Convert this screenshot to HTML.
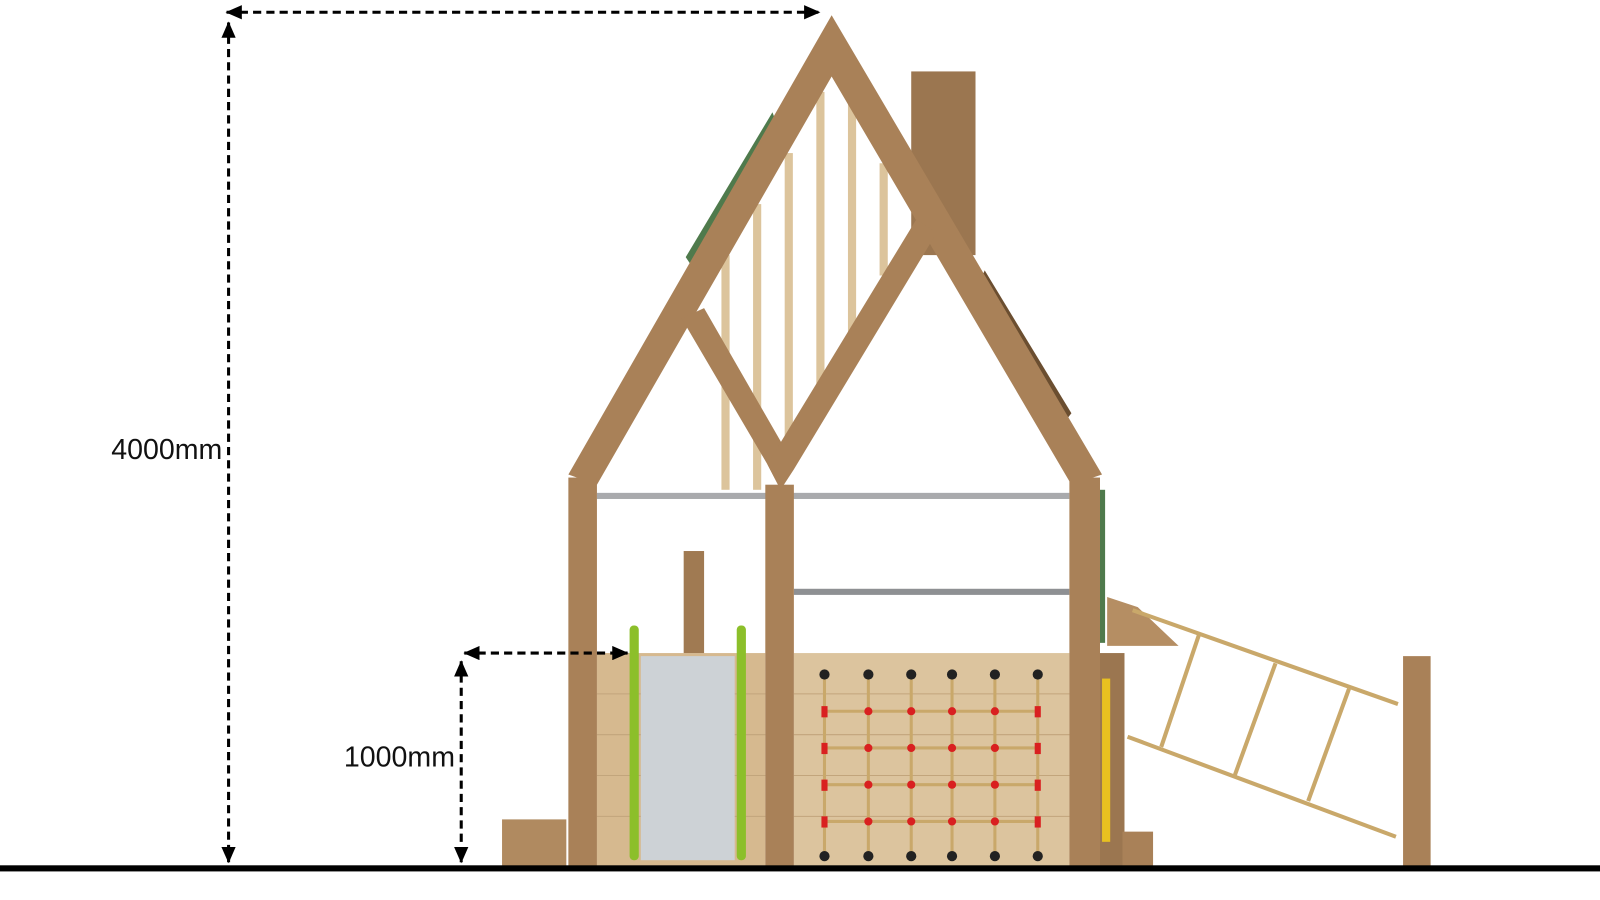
<!DOCTYPE html><html><head><style>body{margin:0;background:#fff}svg{display:block}text{font-family:"Liberation Sans",sans-serif;font-size:28px;fill:#111}</style></head><body>
<svg width="1600" height="900" viewBox="0 0 1568 882" preserveAspectRatio="none">
<defs>
<marker id="b" markerWidth="16" markerHeight="14" refX="15" refY="7" orient="auto-start-reverse" markerUnits="userSpaceOnUse"><path d="M0,0 L16,7 L0,14 z" fill="#000"/></marker></defs>
<rect x="492" y="803" width="63" height="47" fill="#b08a60"/>
<rect x="893" y="70" width="63" height="180" fill="#9b7650"/>
<polygon points="672,252 757,110 760,118 676,258" fill="#4f7a4c"/>
<polygon points="965,265 1050,405 1046,410 962,272" fill="#6b4e30"/>
<g fill="#dcc49c"><rect x="707" y="250" width="8" height="230"/><rect x="738" y="200" width="8" height="280"/><rect x="769" y="150" width="8" height="300"/><rect x="800" y="90" width="8" height="290"/><rect x="831" y="100" width="8" height="230"/><rect x="862" y="160" width="8" height="110"/></g>
<rect x="585" y="483" width="463" height="6" fill="#a9aaad"/>
<rect x="778" y="577" width="270" height="6" fill="#8e9093"/>
<rect x="585" y="640" width="165" height="210" fill="#d6b98f"/>
<rect x="778" y="640" width="270" height="210" fill="#dcc49e"/>
<g stroke="#c2a57c" stroke-width="1">
<line x1="585" y1="680" x2="750" y2="680"/><line x1="585" y1="720" x2="750" y2="720"/><line x1="585" y1="760" x2="750" y2="760"/><line x1="585" y1="800" x2="750" y2="800"/>
<line x1="778" y1="680" x2="1048" y2="680"/><line x1="778" y1="720" x2="1048" y2="720"/><line x1="778" y1="760" x2="1048" y2="760"/><line x1="778" y1="800" x2="1048" y2="800"/></g>
<rect x="670" y="540" width="20" height="100" fill="#a07a52"/>
<rect x="628" y="643" width="92" height="200" fill="#cdd2d6"/>
<rect x="617" y="613" width="9" height="230" rx="4" fill="#8cbf2a"/>
<rect x="722" y="613" width="9" height="230" rx="4" fill="#8cbf2a"/>
<g stroke="#c9a86a" stroke-width="3"><line x1="808" y1="665" x2="808" y2="835"/><line x1="851" y1="665" x2="851" y2="835"/><line x1="893" y1="665" x2="893" y2="835"/><line x1="933" y1="665" x2="933" y2="835"/><line x1="975" y1="665" x2="975" y2="835"/><line x1="1017" y1="665" x2="1017" y2="835"/>
<line x1="808" y1="697" x2="1017" y2="697"/><line x1="808" y1="733" x2="1017" y2="733"/><line x1="808" y1="769" x2="1017" y2="769"/><line x1="808" y1="805" x2="1017" y2="805"/></g>
<g fill="#d92020">
<circle cx="851" cy="697" r="4"/><circle cx="893" cy="697" r="4"/><circle cx="933" cy="697" r="4"/><circle cx="975" cy="697" r="4"/>
<circle cx="851" cy="733" r="4"/><circle cx="893" cy="733" r="4"/><circle cx="933" cy="733" r="4"/><circle cx="975" cy="733" r="4"/>
<circle cx="851" cy="769" r="4"/><circle cx="893" cy="769" r="4"/><circle cx="933" cy="769" r="4"/><circle cx="975" cy="769" r="4"/>
<circle cx="851" cy="805" r="4"/><circle cx="893" cy="805" r="4"/><circle cx="933" cy="805" r="4"/><circle cx="975" cy="805" r="4"/>
<rect x="805" y="692" width="6" height="11"/><rect x="805" y="728" width="6" height="11"/><rect x="805" y="764" width="6" height="11"/><rect x="805" y="800" width="6" height="11"/>
<rect x="1014" y="692" width="6" height="11"/><rect x="1014" y="728" width="6" height="11"/><rect x="1014" y="764" width="6" height="11"/><rect x="1014" y="800" width="6" height="11"/></g>
<g fill="#222"><circle cx="808" cy="661" r="5"/><circle cx="851" cy="661" r="5"/><circle cx="893" cy="661" r="5"/><circle cx="933" cy="661" r="5"/><circle cx="975" cy="661" r="5"/><circle cx="1017" cy="661" r="5"/>
<circle cx="808" cy="839" r="5"/><circle cx="851" cy="839" r="5"/><circle cx="893" cy="839" r="5"/><circle cx="933" cy="839" r="5"/><circle cx="975" cy="839" r="5"/><circle cx="1017" cy="839" r="5"/></g>
<g fill="#a98158">
<polygon points="815,15 1080,465 1050,475 815,75 585,475 557,465"/>
<polygon points="668,312 690,302 778,455 765,480 752,455"/>
<polygon points="752,455 898,215 918,228 778,460 765,480"/>
<rect x="557" y="468" width="28" height="382"/>
<rect x="750" y="475" width="28" height="375"/>
<rect x="1048" y="468" width="30" height="382"/>
</g>
<rect x="1078" y="480" width="5" height="150" fill="#4f7a4c"/>
<rect x="1078" y="640" width="24" height="210" fill="#9b7650"/>
<rect x="1080" y="665" width="8" height="160" fill="#e8c020"/>
<polygon points="1085,585 1115,595 1155,633 1085,633" fill="#b58e63"/>
<rect x="1100" y="815" width="30" height="35" fill="#a98158"/>
<g stroke="#c9a86a" stroke-width="4"><line x1="1110" y1="598" x2="1370" y2="690"/><line x1="1105" y1="722" x2="1368" y2="820"/>
<line x1="1175" y1="622" x2="1138" y2="732"/><line x1="1250" y1="650" x2="1210" y2="760"/><line x1="1322" y1="675" x2="1282" y2="785"/></g>
<rect x="1375" y="643" width="27" height="207" fill="#a98158"/>
<rect x="0" y="848" width="1568" height="6" fill="#000"/>
<g stroke="#000" stroke-width="3" stroke-dasharray="8,5" fill="none">
<line x1="222" y1="12" x2="803" y2="12" marker-end="url(#b)" marker-start="url(#b)"/>
<line x1="224" y1="22" x2="224" y2="845" marker-end="url(#b)" marker-start="url(#b)"/>
<line x1="455" y1="640" x2="615" y2="640" marker-end="url(#b)" marker-start="url(#b)"/>
<line x1="452" y1="648" x2="452" y2="845" marker-end="url(#b)" marker-start="url(#b)"/>
</g>
<rect x="108" y="425" width="110" height="32" fill="#fff"/>
<text x="109" y="450" font-size="26">4000mm</text>
<rect x="336" y="726" width="110" height="32" fill="#fff"/>
<text x="337" y="751" font-size="26">1000mm</text>
</svg></body></html>
